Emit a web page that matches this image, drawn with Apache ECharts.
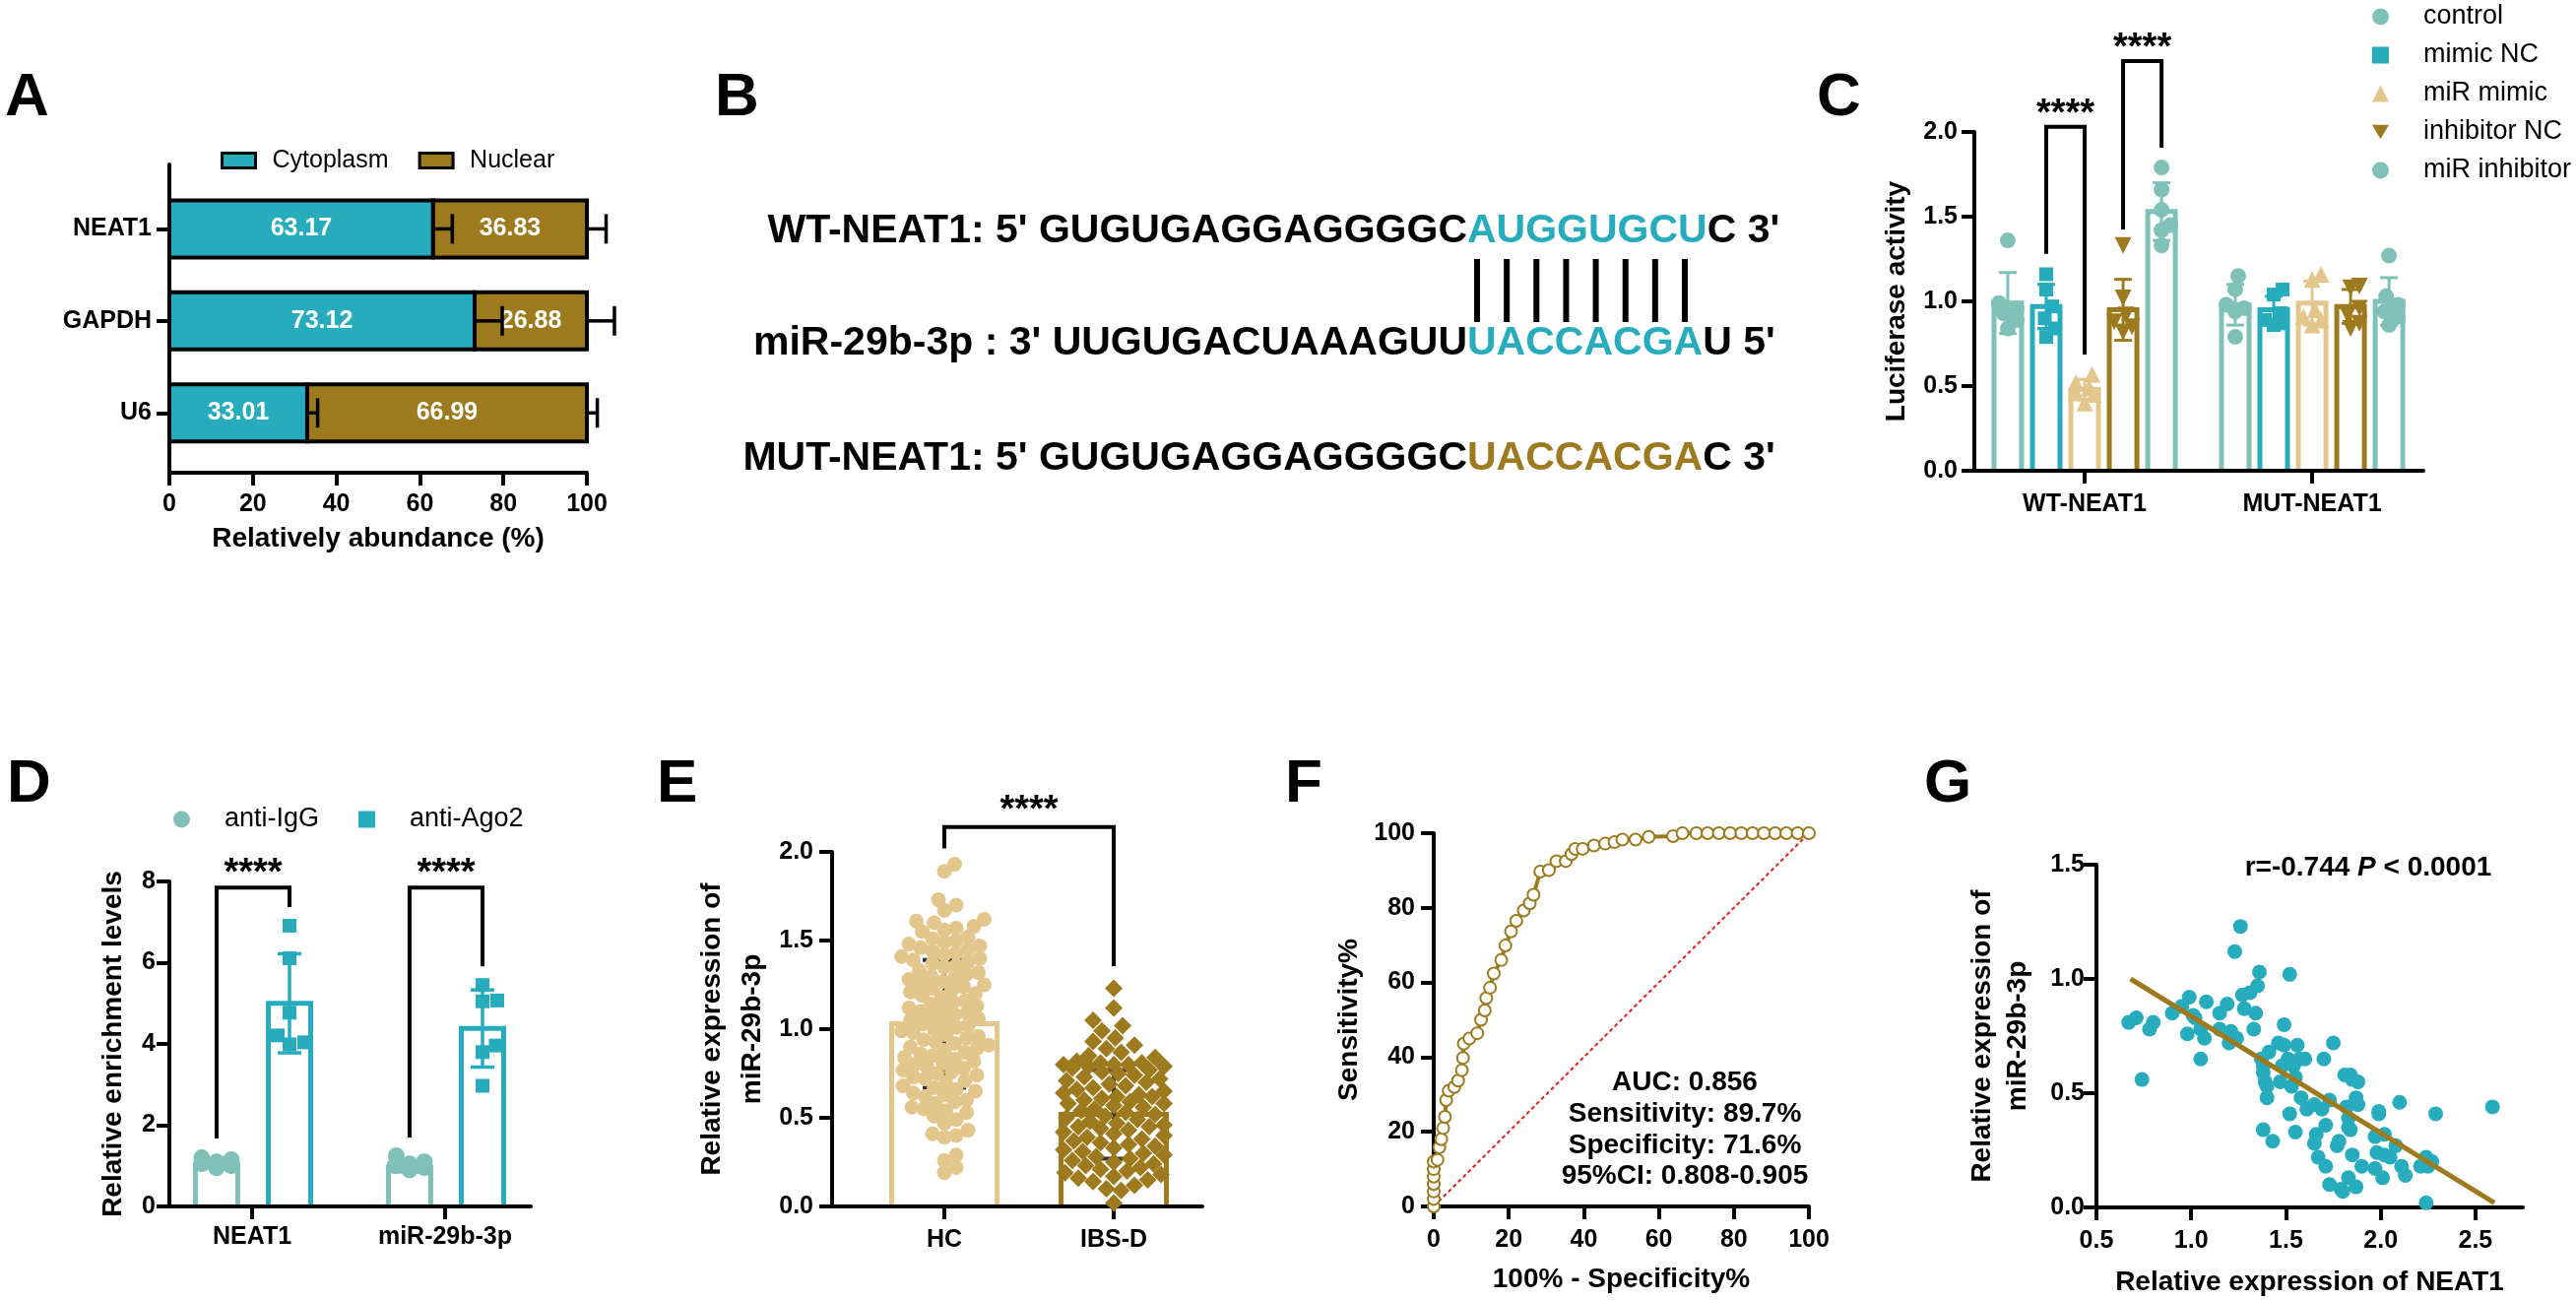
<!DOCTYPE html>
<html>
<head>
<meta charset="utf-8">
<script src="https://cdn.jsdelivr.net/npm/echarts@6/dist/echarts.min.js"></script>
<style>
html, body { margin: 0; padding: 0; background: #fff; }
#main { width: 2616px; height: 1320px; }
</style>
</head>
<body>
<div id="main"></div>
<script>
// ---- data ----
// A: subcellular localisation
var locGenes = ['NEAT1', 'GAPDH', 'U6'];
var cytoplasm = [63.17, 73.12, 33.01];
var nuclear = [36.83, 26.88, 66.99];
var locErr = [4.6, 6.6, 2.5];

// B: binding site
var seqPrefix = ["WT-NEAT1: 5' GUGUGAGGAGGGGC", "miR-29b-3p : 3' UUGUGACUAAAGUU", "MUT-NEAT1: 5' GUGUGAGGAGGGGC"];
var seqSite = ['AUGGUGCU', 'UACCACGA', 'UACCACGA'];
var seqSuffix = ["C 3'", "U 5'", "C 3'"];

// C: luciferase
var lucGroups = ['WT-NEAT1', 'MUT-NEAT1'];
var lucNames = ['control', 'mimic NC', 'miR mimic', 'inhibitor NC', 'miR inhibitor'];
var lucMeanWT = [0.99, 0.97, 0.48, 0.95, 1.53];
var lucSdWT = [0.18, 0.13, 0.06, 0.18, 0.17];
var lucMeanMUT = [0.98, 0.95, 0.99, 0.97, 1.00];
var lucSdMUT = [0.12, 0.08, 0.13, 0.10, 0.14];
var lucPtsWT = [
  [1.36, 0.99, 0.96, 0.93, 0.89, 0.84],
  [1.16, 1.07, 0.97, 0.90, 0.84, 0.79],
  [0.57, 0.52, 0.49, 0.46, 0.45, 0.40],
  [1.33, 1.02, 0.92, 0.88, 0.85, 0.82],
  [1.79, 1.66, 1.54, 1.45, 1.42, 1.33]
];
var lucPtsMUT = [
  [1.15, 1.07, 0.98, 0.96, 0.94, 0.79],
  [1.07, 1.04, 0.93, 0.89, 0.87, 0.86],
  [1.16, 1.13, 0.95, 0.91, 0.89, 0.86],
  [1.09, 1.08, 0.96, 0.92, 0.87, 0.84],
  [1.27, 1.03, 0.98, 0.94, 0.91, 0.86]
];
var sigC = [[-0.169, 1.28, 0, 0.686, 2.03], [0.169, 1.424, 0.338, 1.907, 2.419]];

// D: RIP
var ripTargets = ['NEAT1', 'miR-29b-3p'];
var igGMean = [1.05, 0.97];
var igGSd = [0.10, 0.12];
var ago2Mean = [5.0, 4.38];
var ago2Sd = [1.22, 0.95];
var igGPts = [[1.05, 1.20, 1.15, 1.10, 0.95, 1.00], [1.00, 1.10, 1.25, 0.90, 1.05, 0.95]];
var ago2Pts = [[6.91, 6.11, 4.77, 4.21, 3.99, 4.04], [5.45, 5.07, 5.05, 3.96, 3.80, 2.97]];
var sigD = [[-0.184, 1.67, 0.194, 7.37, 7.85], [0.816, 1.70, 1.194, 5.91, 7.85]];

// E: miR-29b-3p in serum
var exprGroups = ['HC', 'IBS-D'];
var exprMean = [1.03, 0.52];
var exprSd = [0.36, 0.25];
var hcVals = [1.93, 1.89, 1.73, 1.70, 1.67, 1.62, 1.61, 1.60, 1.58, 1.57, 1.56, 1.55, 1.52, 1.51, 1.50,
  1.49, 1.48, 1.47, 1.46, 1.45, 1.44, 1.43, 1.42, 1.41, 1.40, 1.39, 1.38, 1.37, 1.36, 1.35, 1.33, 1.32,
  1.31, 1.30, 1.29, 1.28, 1.27, 1.26, 1.25, 1.24, 1.23, 1.22, 1.21, 1.20, 1.19, 1.18, 1.16, 1.15, 1.14,
  1.13, 1.12, 1.11, 1.10, 1.09, 1.08, 1.07, 1.06, 1.05, 1.04, 1.03, 1.02, 1.01, 1.00, 0.99, 0.98, 0.97,
  0.96, 0.95, 0.94, 0.93, 0.92, 0.91, 0.90, 0.89, 0.88, 0.87, 0.86, 0.85, 0.84, 0.83, 0.82, 0.81, 0.80,
  0.79, 0.78, 0.77, 0.76, 0.75, 0.74, 0.73, 0.72, 0.71, 0.70, 0.68, 0.67, 0.66, 0.65, 0.64, 0.63, 0.62,
  0.60, 0.59, 0.58, 0.56, 0.55, 0.54, 0.53, 0.51, 0.49, 0.47, 0.43, 0.41, 0.40, 0.39, 0.29, 0.26, 0.22, 0.19];
var ibsVals = [1.23, 1.12, 1.05, 1.02, 0.99, 0.95, 0.93, 0.91, 0.89, 0.87, 0.85, 0.84, 0.82, 0.81, 0.81,
  0.80, 0.80, 0.80, 0.79, 0.79, 0.78, 0.77, 0.76, 0.75, 0.74, 0.73, 0.72, 0.71, 0.70, 0.69, 0.68, 0.67,
  0.66, 0.65, 0.64, 0.63, 0.62, 0.62, 0.61, 0.60, 0.59, 0.58, 0.58, 0.57, 0.56, 0.55, 0.54, 0.53, 0.52,
  0.51, 0.50, 0.49, 0.48, 0.47, 0.46, 0.45, 0.45, 0.44, 0.43, 0.42, 0.41, 0.40, 0.39, 0.38, 0.37, 0.36,
  0.35, 0.34, 0.33, 0.32, 0.31, 0.30, 0.29, 0.28, 0.27, 0.26, 0.25, 0.24, 0.23, 0.22, 0.21, 0.20, 0.19,
  0.18, 0.17, 0.16, 0.15, 0.14, 0.12, 0.10, 0.09, 0.02];
var sigE = [[0, 2.02, 1, 1.356, 2.14]];

// F: ROC
var rocFpr = [0, 0, 0, 0, 0, 0, 0, 1, 1.5, 2, 2.5, 3, 3.3, 4, 5.5, 6.5, 7.5, 7.8, 8, 9.5, 11.6, 12.6, 13.6, 14,
  15, 16, 18, 19.1, 20.6, 22, 24, 25.6, 26.6, 28.4, 30.7, 32.7, 35.2, 36.7, 37.7, 39.7, 42.7, 45.7, 48.2,
  50.3, 53.8, 57.3, 63.8, 66.3, 70, 73, 76, 79, 82, 85, 88, 91, 94, 97, 100];
var rocTpr = [0, 2, 4, 6, 8, 10, 12, 12.5, 15.8, 18, 21, 24, 28.5, 31, 32, 33.7, 36.5, 39.8, 43.6, 45, 46.4,
  50, 52.5, 55.8, 58.6, 62.4, 66, 69.9, 73.7, 76.5, 79.3, 81.2, 83.5, 89.7, 90.1, 92.5, 92.5, 94.4, 95.8,
  95.8, 96.7, 97.2, 97.6, 98.3, 98.3, 99, 99.2, 100, 100, 100, 100, 100, 100, 100, 100, 100, 100, 100, 100];
var rocStats = ['AUC: 0.856', 'Sensitivity: 89.7%', 'Specificity: 71.6%', '95%CI: 0.808-0.905'];

// G: correlation
var neat1Expr = [0.67, 0.71, 0.78, 0.80, 0.74, 0.90, 0.95, 0.99, 0.98, 1.01,
  1.02, 1.05, 1.07, 1.05, 1.08, 1.15, 1.15, 1.19, 1.21, 1.20,
  1.24, 1.23, 1.26, 1.27, 1.28, 1.31, 1.33, 1.34, 1.35, 1.36,
  1.37, 1.38, 1.39, 1.40, 1.40, 1.41, 1.38, 1.43, 1.38, 1.46,
  1.49, 1.49, 1.48, 1.47, 1.52, 1.52, 1.51, 1.53, 1.54, 1.55,
  1.56, 1.55, 1.58, 1.60, 1.61, 1.65, 1.66, 1.65, 1.67, 1.69,
  1.70, 1.71, 1.71, 1.73, 1.75, 1.77, 1.78, 1.79, 1.80, 1.81,
  1.82, 1.83, 1.83, 1.83, 1.84, 1.84, 1.85, 1.85, 1.87, 1.87,
  1.88, 1.88, 1.90, 1.97, 1.97, 1.98, 1.99, 1.99, 2.01, 2.02,
  2.02, 2.05, 2.08, 2.10, 2.11, 2.13, 2.21, 2.24, 2.24, 2.25,
  2.29, 2.59, 2.27, 1.57, 1.73];
var mirExpr = [0.81, 0.83, 0.78, 0.81, 0.56, 0.85, 0.88, 0.92, 0.76, 0.84,
  0.83, 0.78, 0.74, 0.65, 0.90, 0.85, 0.78, 0.89, 0.77, 0.72,
  0.74, 1.12, 1.23, 0.93, 0.87, 0.94, 0.78, 0.85, 0.97, 1.03,
  0.65, 0.59, 0.55, 0.48, 0.53, 0.68, 0.34, 0.29, 0.62, 0.72,
  0.80, 0.71, 0.62, 0.55, 1.02, 0.41, 0.65, 0.53, 0.62, 0.33,
  0.71, 0.57, 0.48, 0.65, 0.43, 0.45, 0.32, 0.28, 0.22, 0.43,
  0.65, 0.36, 0.18, 0.10, 0.72, 0.27, 0.29, 0.08, 0.07, 0.58,
  0.44, 0.39, 0.35, 0.13, 0.58, 0.34, 0.23, 0.56, 0.09, 0.48,
  0.45, 0.55, 0.18, 0.31, 0.17, 0.24, 0.41, 0.42, 0.13, 0.32,
  0.23, 0.22, 0.27, 0.46, 0.18, 0.14, 0.18, 0.02, 0.22, 0.18,
  0.41, 0.44, 0.20, 0.65, 0.47];
var fitX = [0.68, 2.6];
var fitY = [1.0, 0.02];

// ---- styles / layout ----
var FONT = "'Liberation Sans', Arial, Helvetica, sans-serif";
var TEAL = '#27ACBE', SAGE = '#7FC0B8', SAND = '#E3C68C', OLIVE = '#9C7A1D';
var DOWN_TRI = 'path://M0,0L20,0L10,17Z';
var lucColors = [SAGE, TEAL, SAND, OLIVE, SAGE];
var lucSymbols = ['circle', 'rect', 'triangle', DOWN_TRI, 'circle'];
var lucSizes = [16, 14, 17, 17, 16];
var lucStep = 0.169;

var gA = { left: 172, top: 167, width: 424, height: 313 };
var gC = { left: 2005, top: 134, width: 456, height: 344 };
var gD = { left: 172, top: 895, width: 367, height: 330 };
var gE = { left: 845, top: 865, width: 376, height: 360 };
var gF = { left: 1456, top: 846, width: 381, height: 379 };
var gG = { left: 2129, top: 878, width: 433, height: 348 };
var rC = { x: [-0.485, 1.489], y: [0, 2] };
var rD = { x: [-0.4286, 1.444], y: [0, 8] };
var rE = { x: [-0.663, 1.523], y: [0, 2] };

function pxPer(g, r) {
  return { x: g.width / (r.x[1] - r.x[0]), y: g.height / (r.y[1] - r.y[0]) };
}
var pC = pxPer(gC, rC), pD = pxPer(gD, rD), pE = pxPer(gE, rE);

// simple beeswarm: horizontal pixel offsets so dots overlap as little as possible
function swarm(vals, pxY, diam, halfMax) {
  var order = vals.map(function (v, i) { return i; }).sort(function (a, b) { return vals[a] - vals[b]; });
  var placed = [], out = [], step = 1.5;
  order.forEach(function (i) {
    var y = vals[i] * pxY, best = 0, bestCost = Infinity;
    for (var k = 0; Math.ceil(k / 2) * step <= halfMax; k++) {
      var dx = (k % 2 ? 1 : -1) * Math.ceil(k / 2) * step;
      var cost = 0;
      placed.forEach(function (p) {
        var d = Math.sqrt((p[0] - dx) * (p[0] - dx) + (p[1] - y) * (p[1] - y));
        if (d < diam) cost += diam - d;
      });
      if (cost === 0) { best = dx; bestCost = 0; break; }
      if (cost < bestCost) { bestCost = cost; best = dx; }
    }
    placed.push([best, y]);
    out[i] = best;
  });
  return out;
}

function axis(o) {
  var a = {
    nameLocation: 'middle',
    axisLine: { show: true, onZero: false, lineStyle: { color: '#000', width: 4 } },
    axisTick: { show: true, length: 13, lineStyle: { color: '#000', width: 4 } },
    axisLabel: { color: '#000', fontSize: 25, fontWeight: 'bold', fontFamily: FONT, margin: 18 },
    splitLine: { show: false },
    nameTextStyle: { color: '#000', fontSize: 28, fontWeight: 'bold', fontFamily: FONT }
  };
  for (var k in o) {
    if (a[k] && typeof o[k] === 'object' && !Array.isArray(o[k])) Object.assign(a[k], o[k]);
    else a[k] = o[k];
  }
  return a;
}

function fixed1(v) { return v.toFixed(1); }

// hollow bar with SD error bar
function hollowBars(name, g, xs, means, sds, color, opt) {
  return {
    type: 'custom', name: name, xAxisIndex: g, yAxisIndex: g, silent: true,
    data: xs.map(function (x, i) { return [x, means[i], sds[i]]; }),
    renderItem: function (params, api) {
      var x = api.value(0), m = api.value(1), s = api.value(2);
      var b = api.coord([x, 0]), t = api.coord([x, m]);
      var hi = api.coord([x, m + s]), lo = api.coord([x, m - s]);
      var h = opt.half, c = opt.cap, ec = opt.errColor || color;
      var es = { stroke: ec, lineWidth: opt.errWidth };
      return {
        type: 'group', children: [
          { type: 'polyline', shape: { points: [[b[0] - h, b[1] - 2], [b[0] - h, t[1]], [b[0] + h, t[1]], [b[0] + h, b[1] - 2]] },
            style: { fill: 'none', stroke: color, lineWidth: opt.border, lineJoin: 'miter' } },
          { type: 'line', shape: { x1: hi[0], y1: hi[1], x2: lo[0], y2: lo[1] }, style: es },
          { type: 'line', shape: { x1: hi[0] - c, y1: hi[1], x2: hi[0] + c, y2: hi[1] }, style: es },
          { type: 'line', shape: { x1: lo[0] - c, y1: lo[1], x2: lo[0] + c, y2: lo[1] }, style: es }
        ]
      };
    }
  };
}

function brackets(g, items, starDy) {
  return {
    type: 'custom', xAxisIndex: g, yAxisIndex: g, silent: true, z: 5, clip: false,
    data: items,
    renderItem: function (params, api) {
      var p1 = api.coord([api.value(0), api.value(1)]);
      var p2 = api.coord([api.value(2), api.value(3)]);
      var top = api.coord([api.value(0), api.value(4)])[1];
      return {
        type: 'group', children: [
          { type: 'polyline', shape: { points: [[p1[0], p1[1]], [p1[0], top], [p2[0], top], [p2[0], p2[1]]] },
            style: { fill: 'none', stroke: '#000', lineWidth: 4 } },
          { type: 'text', x: (p1[0] + p2[0]) / 2, y: top - starDy,
            style: { text: '****', fill: '#000', fontSize: 38, fontWeight: 'bold', fontFamily: FONT, align: 'center', verticalAlign: 'middle' } }
        ]
      };
    }
  };
}

function dots(name, g, xs, vals, color, symbol, size) {
  return {
    type: 'scatter', name: name, xAxisIndex: g, yAxisIndex: g, symbol: symbol, symbolSize: size,
    itemStyle: { color: color, opacity: 1 }, silent: true, z: 4,
    data: vals.map(function (v, i) { return [xs[i], v]; })
  };
}

// ---- series ----
var series = [];

// A: stacked horizontal bars
function stackSeries(name, color, starts, vals) {
  return {
    type: 'custom', name: name, xAxisIndex: 0, yAxisIndex: 0, silent: true,
    data: vals.map(function (v, i) { return [starts[i], i, starts[i] + v, v]; }),
    renderItem: function (params, api) {
      var p0 = api.coord([api.value(0), api.value(1)]);
      var p1 = api.coord([api.value(2), api.value(1)]);
      var hh = 29;
      return {
        type: 'group', children: [
          { type: 'rect', shape: { x: p0[0], y: p0[1] - hh, width: p1[0] - p0[0], height: hh * 2 },
            style: { fill: color, stroke: '#000', lineWidth: 4 } },
          { type: 'text', x: (p0[0] + p1[0]) / 2, y: p0[1],
            style: { text: api.value(3).toFixed(2), fill: '#fff', fontSize: 25, fontWeight: 'bold', fontFamily: FONT, align: 'center', verticalAlign: 'middle' } }
        ]
      };
    }
  };
}
series.push(stackSeries('Cytoplasm', TEAL, [0, 0, 0], cytoplasm));
series.push(stackSeries('Nuclear', OLIVE, cytoplasm, nuclear));
series.push({
  type: 'custom', name: 'locErr', xAxisIndex: 0, yAxisIndex: 0, silent: true, z: 4,
  data: locGenes.map(function (g, i) { return [i, cytoplasm[i], locErr[i], cytoplasm[i] + nuclear[i]]; }),
  renderItem: function (params, api) {
    var cat = api.value(0), e = api.value(2), kids = [];
    [api.value(1), api.value(3)].forEach(function (v) {
      var a = api.coord([v, cat]), b = api.coord([v + e, cat]);
      kids.push({ type: 'line', shape: { x1: a[0], y1: a[1], x2: b[0], y2: b[1] }, style: { stroke: '#000', lineWidth: 3.5 } });
      kids.push({ type: 'line', shape: { x1: b[0], y1: b[1] - 15, x2: b[0], y2: b[1] + 15 }, style: { stroke: '#000', lineWidth: 3.5 } });
    });
    return { type: 'group', children: kids };
  }
});

// C: luciferase bars + dots
lucNames.forEach(function (n, i) {
  var off = (i - 2) * lucStep;
  series.push(hollowBars(n + ' bar', 1, [0 + off, 1 + off], [lucMeanWT[i], lucMeanMUT[i]], [lucSdWT[i], lucSdMUT[i]],
    lucColors[i], { half: 14, border: 5, cap: 9, errWidth: 3 }));
});
lucNames.forEach(function (n, i) {
  var off = (i - 2) * lucStep, xs = [], vs = [];
  [lucPtsWT[i], lucPtsMUT[i]].forEach(function (pts, gi) {
    var sw = swarm(pts, pC.y, 14, 10);
    pts.forEach(function (v, k) { xs.push(gi + off + sw[k] / pC.x); vs.push(v); });
  });
  series.push(dots(n, 1, xs, vs, lucColors[i], lucSymbols[i], lucSizes[i]));
});
series.push(brackets(1, sigC, 12));

// D: RIP
series.push(hollowBars('anti-IgG bar', 2, [-0.184, 0.816], igGMean, igGSd, SAGE, { half: 21.5, border: 5, cap: 12, errWidth: 3.5 }));
series.push(hollowBars('anti-Ago2 bar', 2, [0.194, 1.194], ago2Mean, ago2Sd, TEAL, { half: 21.5, border: 5, cap: 12, errWidth: 3.5 }));
(function () {
  var sets = [['anti-IgG', igGPts, -0.184, SAGE, 'circle', 17], ['anti-Ago2', ago2Pts, 0.194, TEAL, 'rect', 14]];
  sets.forEach(function (s) {
    var xs = [], vs = [];
    s[1].forEach(function (pts, gi) {
      var sw = swarm(pts, pD.y, 15, 16);
      pts.forEach(function (v, k) { xs.push(gi + s[2] + sw[k] / pD.x); vs.push(v); });
    });
    series.push(dots(s[0], 2, xs, vs, s[3], s[4], s[5]));
  });
})();
series.push(brackets(2, sigD, 14));

// E: HC vs IBS-D
series.push(hollowBars('HC bar', 3, [0], [exprMean[0]], [exprSd[0]], SAND, { half: 53.5, border: 5, cap: 22, errWidth: 4, errColor: '#333' }));
series.push(hollowBars('IBS-D bar', 3, [1], [exprMean[1]], [exprSd[1]], OLIVE, { half: 53.5, border: 5, cap: 22, errWidth: 4, errColor: '#333' }));
(function () {
  var swH = swarm(hcVals, pE.y, 12, 50);
  var swI = swarm(ibsVals, pE.y, 14, 52);
  series.push(dots('HC', 3, swH.map(function (d) { return 0 + d / pE.x; }), hcVals, SAND, 'circle', 15));
  series.push(dots('IBS-D', 3, swI.map(function (d) { return 1 + d / pE.x; }), ibsVals, OLIVE, 'diamond', 18));
})();
series.push(brackets(3, sigE, 16));

// F: ROC
series.push({
  type: 'line', name: 'reference', xAxisIndex: 4, yAxisIndex: 4, symbol: 'none', silent: true,
  lineStyle: { color: '#e8201c', width: 2, type: [4, 3] },
  data: [[0, 0], [100, 100]]
});
series.push({
  type: 'line', name: 'ROC', xAxisIndex: 4, yAxisIndex: 4, silent: true, z: 4,
  symbol: 'emptyCircle', symbolSize: 12,
  itemStyle: { color: OLIVE, borderWidth: 2.5 },
  lineStyle: { color: OLIVE, width: 4 },
  data: rocFpr.map(function (x, i) { return [x, rocTpr[i]]; })
});

// G: correlation
series.push({
  type: 'scatter', name: 'NEAT1 vs miR', xAxisIndex: 5, yAxisIndex: 5, symbol: 'circle', symbolSize: 15, silent: true,
  itemStyle: { color: TEAL, opacity: 1 },
  data: neat1Expr.map(function (x, i) { return [x, mirExpr[i]]; })
});
series.push({
  type: 'line', name: 'fit', xAxisIndex: 5, yAxisIndex: 5, symbol: 'none', silent: true, z: 5,
  lineStyle: { color: OLIVE, width: 5 },
  data: fitX.map(function (x, i) { return [x, fitY[i]]; })
});

// ---- graphic (panel letters, sequences, annotations) ----
var graphic = [];
[['A', 5, 100], ['B', 726, 100], ['C', 1845, 100], ['D', 7, 797], ['E', 667, 797], ['F', 1305, 797], ['G', 1954, 797]]
  .forEach(function (l) {
    graphic.push({ type: 'text', x: l[1], y: l[2], silent: true,
      style: { text: l[0], fill: '#000', fontSize: 62, fontWeight: 'bold', fontFamily: FONT, align: 'left', verticalAlign: 'middle' } });
  });
var seqY = [235, 349, 466], seqX = 1490, siteColors = [TEAL, TEAL, OLIVE];
seqPrefix.forEach(function (p, i) {
  graphic.push({ type: 'text', x: seqX, y: seqY[i], silent: true,
    style: { text: p, fill: '#000', fontSize: 41, fontWeight: 'bold', fontFamily: FONT, align: 'right', verticalAlign: 'middle' } });
  graphic.push({ type: 'text', x: seqX, y: seqY[i], silent: true,
    style: { text: '{s|' + seqSite[i] + '}{k|' + seqSuffix[i] + '}', fontSize: 41, fontWeight: 'bold', fontFamily: FONT,
      align: 'left', verticalAlign: 'middle',
      rich: { s: { fill: siteColors[i], fontSize: 41, fontWeight: 'bold', fontFamily: FONT },
              k: { fill: '#000', fontSize: 41, fontWeight: 'bold', fontFamily: FONT } } } });
});
for (var k = 0; k < seqSite[0].length; k++) {
  var px = 1500 + k * (211 / 7);
  graphic.push({ type: 'line', silent: true, shape: { x1: px, y1: 263, x2: px, y2: 327 }, style: { stroke: '#000', lineWidth: 6 } });
}
graphic.push({ type: 'text', x: 1711, y: 1147, silent: true,
  style: { text: rocStats.join('\n'), fill: '#000', fontSize: 28, fontWeight: 'bold', fontFamily: FONT, lineHeight: 31.7, align: 'center', verticalAlign: 'middle' } });
graphic.push({ type: 'text', x: 2405, y: 881, silent: true,
  style: { text: '{b|r=-0.744 }{i|P}{b| < 0.0001}', align: 'center', verticalAlign: 'middle', fontSize: 28, fontWeight: 'bold', fontFamily: FONT,
    rich: { b: { fill: '#000', fontSize: 28, fontWeight: 'bold', fontFamily: FONT },
            i: { fill: '#000', fontSize: 28, fontWeight: 'bold', fontStyle: 'italic', fontFamily: FONT } } } });

// ---- option ----
var legendText = { color: '#000', fontSize: 27, fontFamily: FONT, lineHeight: 28, padding: [0, 0, 0, 30] };
var option = {
  animation: false,
  backgroundColor: '#fff',
  grid: [gA, gC, gD, gE, gF, gG].map(function (g) {
    return { left: g.left, top: g.top, width: g.width, height: g.height, containLabel: false, outerBoundsMode: 'none' };
  }),
  legend: [
    { left: 219, top: 144, itemWidth: 34, itemHeight: 15, itemGap: 30, selectedMode: false,
      textStyle: { color: '#000', fontSize: 25, fontFamily: FONT, lineHeight: 28, padding: [0, 0, 0, 12] },
      data: [
        { name: 'Cytoplasm', icon: 'rect', itemStyle: { color: TEAL, borderColor: '#000', borderWidth: 3 } },
        { name: 'Nuclear', icon: 'rect', itemStyle: { color: OLIVE, borderColor: '#000', borderWidth: 3 } }
      ] },
    { left: 2404, top: -2, orient: 'vertical', itemWidth: 17, itemHeight: 17, itemGap: 11, selectedMode: false,
      textStyle: legendText,
      data: lucNames.map(function (n, i) { return { name: n, icon: lucSymbols[i], itemStyle: { color: lucColors[i] } }; }) },
    { left: 171, top: 813, itemWidth: 17, itemHeight: 17, itemGap: 40, selectedMode: false,
      textStyle: legendText,
      data: [{ name: 'anti-IgG', icon: 'circle', itemStyle: { color: SAGE } }, { name: 'anti-Ago2', icon: 'rect', itemStyle: { color: TEAL } }] }
  ],
  xAxis: [
    axis({ gridIndex: 0, type: 'value', min: 0, max: 100, interval: 20, name: 'Relatively abundance (%)', nameGap: 53,
      axisLabel: { margin: 20 } }),
    axis({ gridIndex: 1, type: 'value', min: rC.x[0], max: rC.x[1],
      axisTick: { customValues: [0, 1] },
      axisLabel: { margin: 22, customValues: [0, 1], formatter: function (v) { return lucGroups[Math.round(v)]; } } }),
    axis({ gridIndex: 2, type: 'value', min: rD.x[0], max: rD.x[1],
      axisTick: { customValues: [0, 1] },
      axisLabel: { margin: 19, customValues: [0, 1], formatter: function (v) { return ripTargets[Math.round(v)]; } } }),
    axis({ gridIndex: 3, type: 'value', min: rE.x[0], max: rE.x[1],
      axisTick: { customValues: [0, 1] },
      axisLabel: { margin: 22, customValues: [0, 1], formatter: function (v) { return exprGroups[Math.round(v)]; } } }),
    axis({ gridIndex: 4, type: 'value', min: 0, max: 100, interval: 20, name: '100% - Specificity%', nameGap: 60,
      axisLabel: { margin: 22 } }),
    axis({ gridIndex: 5, type: 'value', min: 0.5, max: 2.75, name: 'Relative expression of NEAT1', nameGap: 62,
      axisTick: { customValues: [0.5, 1, 1.5, 2, 2.5] },
      axisLabel: { margin: 22, customValues: [0.5, 1, 1.5, 2, 2.5], formatter: fixed1 } })
  ],
  yAxis: [
    axis({ gridIndex: 0, type: 'value', inverse: true, min: -0.7, max: 2.65,
      axisTick: { customValues: [0, 1, 2] },
      axisLabel: { margin: 18, customValues: [0, 1, 2], formatter: function (v) { return locGenes[Math.round(v)]; } } }),
    axis({ gridIndex: 1, type: 'value', min: 0, max: 2, interval: 0.5, name: 'Luciferase activity', nameGap: 65,
      axisLabel: { margin: 17, formatter: fixed1 } }),
    axis({ gridIndex: 2, type: 'value', min: 0, max: 8, interval: 2, name: 'Relative enrichment levels', nameGap: 43,
      axisLabel: { margin: 14 } }),
    axis({ gridIndex: 3, type: 'value', min: 0, max: 2, interval: 0.5, name: 'Relative expression of\nmiR-29b-3p', nameGap: 60,
      nameTextStyle: { lineHeight: 41 }, axisLabel: { margin: 19, formatter: fixed1 } }),
    axis({ gridIndex: 4, type: 'value', min: 0, max: 100, interval: 20, name: 'Sensitivity%', nameGap: 72,
      axisLabel: { margin: 19 } }),
    axis({ gridIndex: 5, type: 'value', min: 0, max: 1.5, interval: 0.5, name: 'Relative expression of\nmiR-29b-3p', nameGap: 62,
      nameTextStyle: { lineHeight: 36 }, axisLabel: { margin: 12, formatter: fixed1 } })
  ],
  graphic: graphic,
  series: series
};

var chart = echarts.init(document.getElementById('main'));
chart.setOption(option);
</script>
</body>
</html>
